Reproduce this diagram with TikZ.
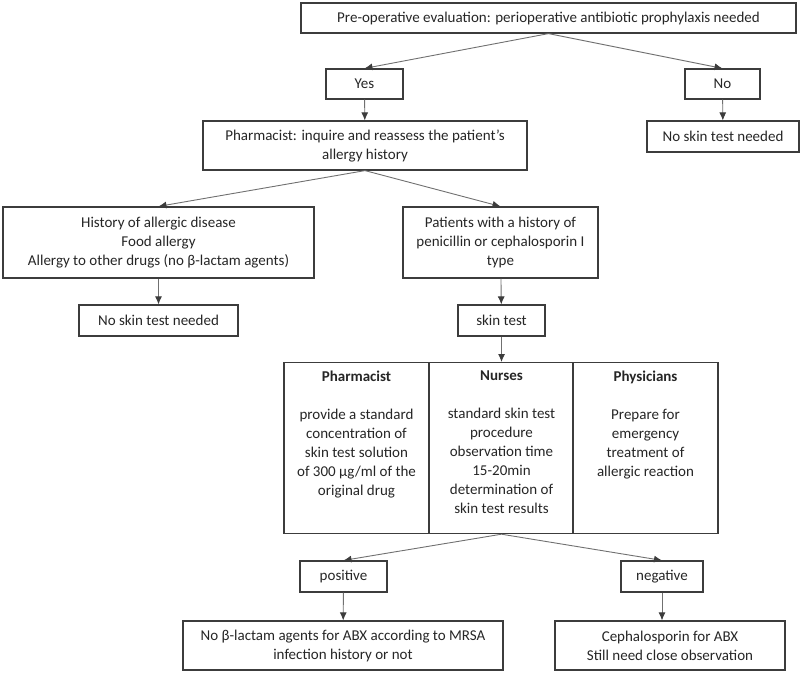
\documentclass[tikz,border=0pt]{standalone}
\usepackage{fontspec}
\setmainfont{Carlito}
\usetikzlibrary{arrows.meta}
\definecolor{boxline}{HTML}{3C3C3C}
\definecolor{arrline}{HTML}{707070}
\newcommand{\colpar}[2]{\parbox[c][155pt][t]{129pt}{\centering\textbf{#1}\\[\baselineskip]#2}}

\begin{document}
\begin{tikzpicture}[x=1pt, y=-1pt, font=\fontsize{15}{19}\selectfont, text=black!85]
		\tikzstyle{box}=[draw=boxline, line width=1.2pt, fill=white, align=center, inner sep=2pt]
		\tikzstyle{col}=[draw=boxline, line width=1.2pt, fill=white, inner sep=8pt, anchor=north]
		\tikzstyle{arr}=[draw=arrline, line width=0.9pt, -{Latex[length=8pt,width=7pt,color=boxline]}]
		\useasboundingbox (0,0) rectangle (800,672);

		% Draw boxes
		\node[box, minimum width=495, minimum height=30] (eval) at (548.5,18) {Pre-operative evaluation: perioperative antibiotic prophylaxis needed};
		\node[box, minimum width=77, minimum height=30] (yes) at (364.5,84) {Yes};
		\node[box, minimum width=75, minimum height=30] (no) at (722.5,84) {No};
		\node[box, minimum width=324, minimum height=49] (pharm) at (365,145.5) {Pharmacist: inquire and reassess the patient’s\\allergy history};
		\node[box, minimum width=152, minimum height=31] (noskinR) at (723,136.5) {No skin test needed};
		\node[box, minimum width=311, minimum height=71] (hist) at (158.5,242.5) {History of allergic disease\\Food allergy\\Allergy to other drugs (no β-lactam agents)};
		\node[box, minimum width=195, minimum height=71] (pat) at (500.5,242.5) {Patients with a history of\\penicillin or cephalosporin I\\type};
		\node[box, minimum width=159, minimum height=31] (noskinL) at (158.5,320.5) {No skin test needed};
		\node[box, minimum width=87, minimum height=31] (skin) at (501.5,320.5) {skin test};
		\node[col] (colpharm) at (356.5,362) {\colpar{Pharmacist}{provide a standard\\concentration of\\skin test solution\\of 300 µg/ml of the\\original drug}};
		\node[col] (colnurse) at (501.5,362) {\colpar{Nurses}{standard skin test\\procedure\\observation time\\15-20min\\determination of\\skin test results}};
		\node[col] (colphys) at (645.5,362) {\colpar{Physicians}{Prepare for\\emergency\\treatment of\\allergic reaction}};
		\node[box, minimum width=87, minimum height=31] (pos) at (343.5,576.5) {positive};
		\node[box, minimum width=82, minimum height=31] (neg) at (662,576.5) {negative};
		\node[box, minimum width=320, minimum height=49] (posres) at (343,645.5) {No β-lactam agents for ABX according to MRSA\\infection history or not};
		\node[box, minimum width=230, minimum height=49] (negres) at (670,645.5) {Cephalosporin for ABX\\Still need close observation};

		% Draw arrows
		\path (eval.south) edge[arr] (yes.north);
		\path (eval.south) edge[arr] (no.north);
		\path (yes) edge[arr] (pharm);
		\path (no) edge[arr] (noskinR);
		\path (pharm.south) edge[arr] (hist.north);
		\path (pharm.south) edge[arr] (pat.north);
		\path (hist) edge[arr] (noskinL);
		\path (pat) edge[arr] (skin);
		\path (skin) edge[arr] (colnurse.north);
		\path (colnurse.south) edge[arr] (pos.north);
		\path (colnurse.south) edge[arr] (neg.north);
		\path (pos) edge[arr] (posres);
		\path (neg.south) edge[arr] (neg.south |- negres.north);

		\end{tikzpicture}
\end{document}
